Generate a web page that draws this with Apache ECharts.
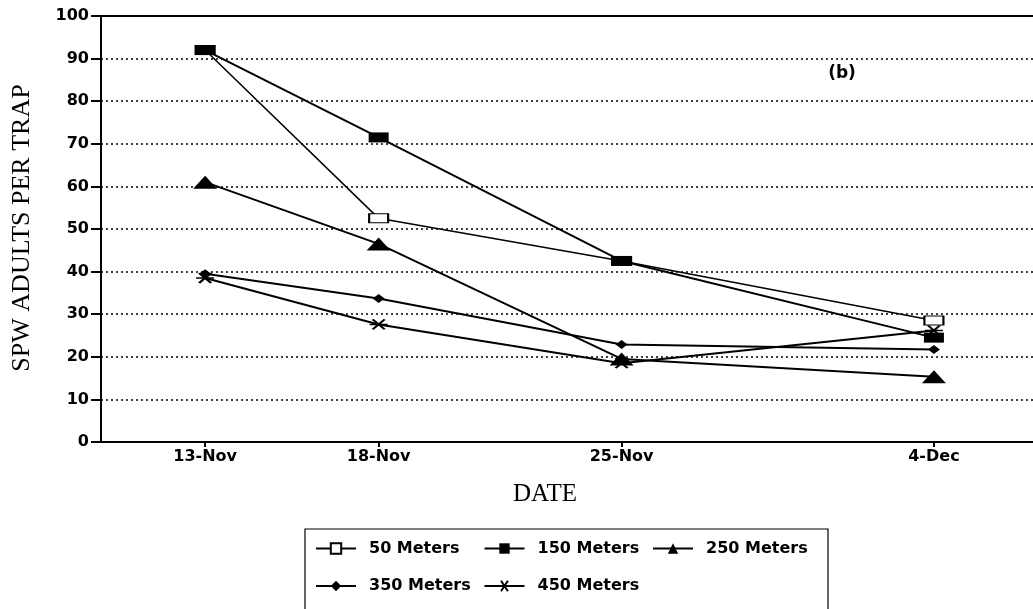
<!DOCTYPE html>
<html>
<head>
<meta charset="utf-8">
<script src="https://cdn.jsdelivr.net/npm/echarts@6/dist/echarts.min.js"></script>
<style>
    html, body { margin: 0; padding: 0; background: #fff; }
    #chart { width: 1033px; height: 609px; }
</style>
</head>
<body>
<div id="chart"></div>
<script>
    // sampling dates, and day number counted from 1-Nov (so the axis is spaced by real time)
    var dateLabels = ['13-Nov', '18-Nov', '25-Nov', '4-Dec'];
    var dayNumbers = [13, 18, 25, 34];

    var seriesNames = ['50 Meters', '150 Meters', '250 Meters', '350 Meters', '450 Meters'];
    var m50  = [92, 52.5, 42.5, 28.5];
    var m150 = [92, 71.5, 42.5, 24.5];
    var m250 = [61, 46.5, 19.5, 15.3];
    var m350 = [39.5, 33.7, 22.9, 21.7];
    var m450 = [38.5, 27.6, 18.5, 26.2];

    var yTicks = [0, 10, 20, 30, 40, 50, 60, 70, 80, 90, 100];

    function pairs(vals) {
        return dayNumbers.map(function (d, i) { return [d, vals[i]]; });
    }

    var sans = 'DejaVu Sans';
    var serif = 'Liberation Serif';

    var myChart = echarts.init(document.getElementById('chart'), null, { renderer: 'canvas' });

    function line(name, vals, symbol, size, itemStyle, width, z) {
        return {
            name: name,
            type: 'line',
            data: pairs(vals),
            symbol: symbol,
            symbolSize: size,
            showSymbol: true,
            lineStyle: { color: '#000', width: width || 2 },
            itemStyle: itemStyle,
            emphasis: { disabled: true },
            z: z || 3
        };
    }

    var option = {
        animation: false,
        backgroundColor: '#fff',
        grid: {
            left: 101, right: -4, top: 16, bottom: 167,
            show: true, borderColor: '#000', borderWidth: 2,
            outerBoundsMode: 'none', containLabel: false
        },
        xAxis: {
            type: 'value',
            min: 10,
            max: 36.97,
            axisLine: { lineStyle: { color: '#000', width: 2 } },
            axisTick: {
                customValues: dayNumbers,
                length: 5,
                lineStyle: { color: '#000', width: 2 }
            },
            axisLabel: {
                customValues: dayNumbers,
                formatter: function (v) { return dateLabels[dayNumbers.indexOf(v)] || ''; },
                color: '#000', fontFamily: sans, fontWeight: 'bold', fontSize: 16,
                margin: 7
            },
            splitLine: { show: false }
        },
        yAxis: {
            type: 'value',
            min: 0,
            max: 100,
            interval: 10,
            axisLine: { show: true, lineStyle: { color: '#000', width: 2 } },
            axisTick: { show: true, length: 10, lineStyle: { color: '#000', width: 2 } },
            axisLabel: {
                color: '#000', fontFamily: sans, fontWeight: 'bold', fontSize: 16, margin: 12,
                formatter: function (v) { return yTicks.indexOf(v) >= 0 ? String(v) : ''; }
            },
            splitLine: { show: true, lineStyle: { color: '#000', width: 1.5, type: [2, 3] } }
        },
        legend: {
            left: 315,
            top: 534,
            width: 510,
            padding: 0,
            itemWidth: 40,
            itemHeight: 13,
            itemGap: 8.5,
            selectedMode: false,
            textStyle: {
                color: '#000', fontFamily: sans, fontWeight: 'bold', fontSize: 16,
                width: 106, lineHeight: 29, padding: [0, 0, 0, 8]
            },
            data: seriesNames
        },
        graphic: [
            {
                type: 'text', x: 22, y: 228, rotation: Math.PI / 2,
                style: {
                    text: 'SPW ADULTS PER TRAP', fill: '#000', font: '26px "' + serif + '"',
                    textAlign: 'center', textVerticalAlign: 'middle'
                }
            },
            {
                type: 'text', x: 545, y: 494,
                style: {
                    text: 'DATE', fill: '#000', font: '25px "' + serif + '"',
                    textAlign: 'center', textVerticalAlign: 'middle'
                }
            },
            {
                type: 'text', x: 842, y: 74,
                style: {
                    text: '(b)', fill: '#000', font: 'bold 17px "' + sans + '"',
                    textAlign: 'center', textVerticalAlign: 'middle'
                }
            },
            {
                type: 'rect', shape: { x: 305, y: 529, width: 523, height: 200 },
                style: { fill: 'none', stroke: '#000', lineWidth: 1.2 }
            }
        ],
        series: [
            line(seriesNames[0], m50, 'rect', [19, 9], { color: '#fff', borderColor: '#000', borderWidth: 1.5 }, 1.5, 5),
            line(seriesNames[1], m150, 'rect', [20, 10], { color: '#000' }, 2, 6),
            line(seriesNames[2], m250, 'triangle', [24, 13], { color: '#000' }),
            line(seriesNames[3], m350, 'diamond', [12, 9], { color: '#000' }),
            line(seriesNames[4], m450, 'path://M0,5 L18,5 M3,0 L15,10 M3,10 L15,0', [18, 10],
                { color: '#000', borderColor: '#000', borderWidth: 2 })
        ]
    };

    myChart.setOption(option);
</script>
</body>
</html>
